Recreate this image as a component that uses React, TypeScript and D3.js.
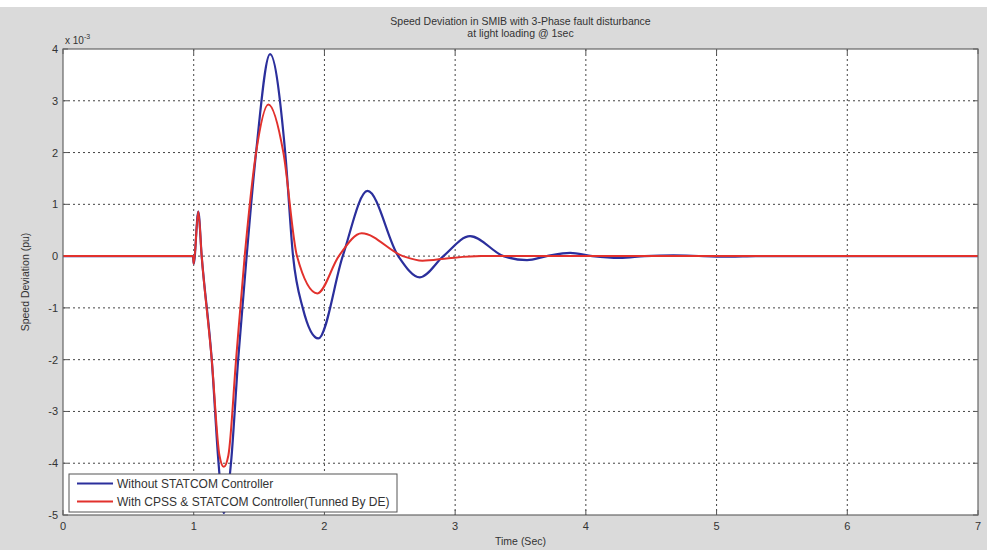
import React, { useRef, useEffect } from 'react';
import * as d3 from 'd3';

// readings (time in sec, speed deviation in 1e-3 pu)
const blueTime = [0, 0.995, 1.0, 1.035, 1.061, 1.138, 1.19, 1.23, 1.285, 1.34, 1.405, 1.477, 1.584, 1.7, 1.76, 1.834, 1.953, 2.14, 2.33, 2.565, 2.73, 2.91, 3.114, 3.37, 3.55, 3.7, 3.88, 4.05, 4.26, 4.45, 4.67, 4.9, 5.1, 5.3, 5.6, 7];
const blueValue = [0, 0, -0.15, 0.86, 0, -2, -4, -4.96, -4, -2, 0, 2, 3.9, 2, 0, -1, -1.59, 0, 1.26, 0, -0.41, 0, 0.386, 0, -0.077, 0, 0.064, 0, -0.035, 0, 0.015, 0, -0.01, 0, 0, 0];

const redTime = [0, 0.995, 1.0, 1.035, 1.061, 1.138, 1.197, 1.23, 1.265, 1.324, 1.39, 1.477, 1.571, 1.686, 1.79, 1.946, 2.11, 2.285, 2.6, 2.75, 2.95, 3.2, 7];
const redValue = [0, 0, -0.15, 0.86, 0, -2, -3.85, -4.07, -3.85, -2, 0, 2, 2.93, 2, 0, -0.72, 0, 0.44, 0, -0.09, -0.04, 0, 0];

const xTicks = [0, 1, 2, 3, 4, 5, 6, 7];
const yTicks = [-5, -4, -3, -2, -1, 0, 1, 2, 3, 4];

const seriesNames = ['Without STATCOM Controller', 'With CPSS & STATCOM Controller(Tunned By DE)'];
const seriesColors = ['#2b2f9c', '#e2312c'];

const App = () => {
  const chartRef = useRef<SVGSVGElement>(null);

  useEffect(() => {
    const W = 987;
    const H = 550;
    const margin = { top: 49, right: 9, bottom: 35, left: 63 };
    const width = W - margin.left - margin.right;
    const height = H - margin.top - margin.bottom;
    const font = 'Liberation Sans, Arial, sans-serif';

    const root = d3.select(chartRef.current);
    root.selectAll('*').remove();
    root.attr('width', W).attr('height', H);

    root.append('rect').attr('width', W).attr('height', H).attr('fill', '#dadada');
    root.append('rect').attr('width', W).attr('height', 7).attr('fill', '#ffffff');

    const svg = root.append('g').attr('transform', `translate(${margin.left},${margin.top})`);

    const x = d3.scaleLinear().domain([0, 7]).range([0, width]);
    const y = d3.scaleLinear().domain([-5, 4]).range([height, 0]);

    svg.append('rect').attr('width', width).attr('height', height).attr('fill', '#ffffff');

    // dotted grid
    svg
      .selectAll('.gx')
      .data(xTicks.slice(1, -1))
      .enter()
      .append('line')
      .attr('x1', (d) => x(d))
      .attr('x2', (d) => x(d))
      .attr('y1', 0)
      .attr('y2', height)
      .attr('stroke', '#444')
      .attr('stroke-width', 1)
      .attr('stroke-dasharray', '2,3');

    svg
      .selectAll('.gy')
      .data(yTicks.slice(1, -1))
      .enter()
      .append('line')
      .attr('x1', 0)
      .attr('x2', width)
      .attr('y1', (d) => y(d))
      .attr('y2', (d) => y(d))
      .attr('stroke', '#444')
      .attr('stroke-width', 1)
      .attr('stroke-dasharray', '2,3');

    // inner ticks on all four sides
    const tk = 5;
    xTicks.forEach((t) => {
      svg.append('line').attr('x1', x(t)).attr('x2', x(t)).attr('y1', height).attr('y2', height - tk).attr('stroke', '#555');
      svg.append('line').attr('x1', x(t)).attr('x2', x(t)).attr('y1', 0).attr('y2', tk).attr('stroke', '#555');
    });
    yTicks.forEach((t) => {
      svg.append('line').attr('x1', 0).attr('x2', tk).attr('y1', y(t)).attr('y2', y(t)).attr('stroke', '#555');
      svg.append('line').attr('x1', width).attr('x2', width - tk).attr('y1', y(t)).attr('y2', y(t)).attr('stroke', '#555');
    });

    svg.append('defs').append('clipPath').attr('id', 'plotclip')
      .append('rect').attr('width', width).attr('height', height);

    const line = d3
      .line<[number, number]>()
      .x((d) => x(d[0]))
      .y((d) => y(d[1]))
      .curve(d3.curveMonotoneX);

    const blue: [number, number][] = blueTime.map((t, i) => [t, blueValue[i]]);
    const red: [number, number][] = redTime.map((t, i) => [t, redValue[i]]);

    const lines = svg.append('g').attr('clip-path', 'url(#plotclip)');
    lines.append('path').attr('d', line(blue)).attr('fill', 'none').attr('stroke', seriesColors[0]).attr('stroke-width', 2.2);
    lines.append('path').attr('d', line(red)).attr('fill', 'none').attr('stroke', seriesColors[1]).attr('stroke-width', 2);

    // axes box
    svg.append('rect').attr('width', width).attr('height', height).attr('fill', 'none').attr('stroke', '#666').attr('stroke-width', 1.2);

    // tick labels
    svg
      .selectAll('.xl')
      .data(xTicks)
      .enter()
      .append('text')
      .attr('x', (d) => x(d))
      .attr('y', height + 15)
      .attr('text-anchor', 'middle')
      .attr('font-family', font)
      .attr('font-size', '11px')
      .attr('fill', '#333')
      .text((d) => d);

    svg
      .selectAll('.yl')
      .data(yTicks)
      .enter()
      .append('text')
      .attr('x', -5)
      .attr('y', (d) => y(d) + 4)
      .attr('text-anchor', 'end')
      .attr('font-family', font)
      .attr('font-size', '11px')
      .attr('fill', '#333')
      .text((d) => d);

    // exponent
    const ex = svg.append('text').attr('x', 2).attr('y', -5).attr('font-family', font).attr('font-size', '10px').attr('fill', '#333');
    ex.append('tspan').text('x 10');
    ex.append('tspan').attr('dy', -5).attr('font-size', '7px').text('-3');

    // title
    svg.append('text').attr('x', width / 2).attr('y', -24).attr('text-anchor', 'middle')
      .attr('font-family', font).attr('font-size', '10.5px').attr('fill', '#333')
      .text('Speed Deviation in SMIB with 3-Phase fault disturbance');
    svg.append('text').attr('x', width / 2).attr('y', -12).attr('text-anchor', 'middle')
      .attr('font-family', font).attr('font-size', '10.5px').attr('fill', '#333')
      .text('at light loading @ 1sec');

    // axis labels
    svg.append('text').attr('x', width / 2).attr('y', height + 30).attr('text-anchor', 'middle')
      .attr('font-family', font).attr('font-size', '10.5px').attr('fill', '#333')
      .text('Time (Sec)');
    svg.append('text')
      .attr('transform', `translate(${-34},${height / 2}) rotate(-90)`)
      .attr('text-anchor', 'middle')
      .attr('font-family', font).attr('font-size', '10.5px').attr('fill', '#333')
      .text('Speed Deviation (pu)');

    // legend
    const lg = svg.append('g').attr('transform', `translate(${69 - margin.left},${474 - margin.top})`);
    lg.append('rect').attr('width', 328).attr('height', 38).attr('fill', '#ffffff').attr('stroke', '#555').attr('stroke-width', 1);
    seriesNames.forEach((name, i) => {
      const yy = 9.5 + i * 18;
      lg.append('line').attr('x1', 8).attr('x2', 44).attr('y1', yy).attr('y2', yy)
        .attr('stroke', seriesColors[i]).attr('stroke-width', 2);
      lg.append('text').attr('x', 48).attr('y', yy + 4.5)
        .attr('font-family', font).attr('font-size', '12px').attr('fill', '#333')
        .text(name);
    });
  }, []);

  return <svg ref={chartRef} style={{ position: 'absolute', left: 0, top: 0 }}></svg>;
};

export default App;
